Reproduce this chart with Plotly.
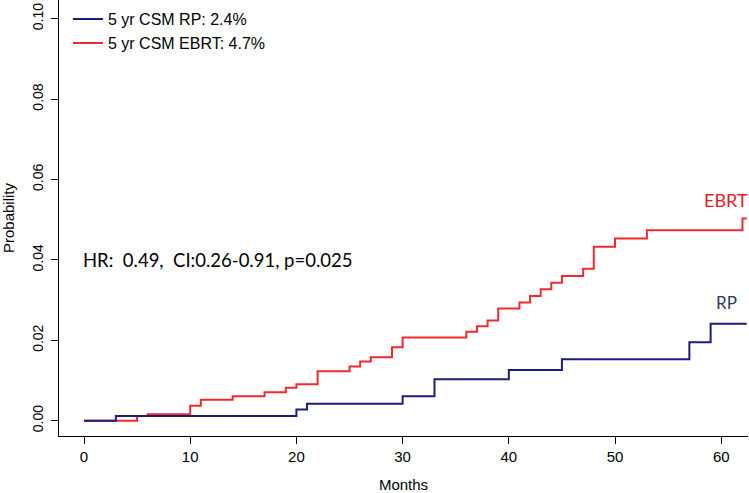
import plotly.graph_objects as go

# Data
rp_months = [0, 3, 20, 21, 30, 33, 40, 45, 57, 59, 62.4]
rp_prob = [0, 0.0012, 0.0028, 0.0042, 0.0061, 0.0103, 0.0126, 0.0153, 0.0195, 0.0241, 0.0241]

ebrt_months = [0, 5, 6, 10, 11, 14, 17, 19, 20, 22, 25, 26, 27, 29, 30, 36, 37, 38, 39,
               41, 42, 43, 44, 45, 47, 48, 50, 53, 62, 62.4]
ebrt_prob = [0, 0.0012, 0.0016, 0.0037, 0.0052, 0.0061, 0.0071, 0.0082, 0.0091, 0.0123,
             0.0135, 0.0147, 0.0158, 0.0183, 0.0207, 0.0221, 0.0235, 0.0249, 0.0279,
             0.0294, 0.0310, 0.0327, 0.0343, 0.0360, 0.0378, 0.0433, 0.0453, 0.0474,
             0.0503, 0.0503]

x_ticks = [0, 10, 20, 30, 40, 50, 60]
y_ticks = [0.00, 0.02, 0.04, 0.06, 0.08, 0.10]
y_tick_text = ["0.00", "0.02", "0.04", "0.06", "0.08", "0.10"]

rp_name = "5 yr CSM RP: 2.4%"
ebrt_name = "5 yr CSM EBRT: 4.7%"
hr_text = "HR:  0.49,  CI:0.26-0.91, p=0.025"

BLUE = "#1C1C7C"
RED = "#EE2A2E"

fig = go.Figure()
fig.add_trace(go.Scatter(x=ebrt_months, y=ebrt_prob, mode="lines", name=ebrt_name,
                         line=dict(color=RED, width=2, shape="hv"), legendrank=2))
fig.add_trace(go.Scatter(x=rp_months, y=rp_prob, mode="lines", name=rp_name,
                         line=dict(color=BLUE, width=2, shape="hv"), legendrank=1))

base = "Liberation Sans, Arial, sans-serif"
xfont = dict(family=base, size=15, color="black")
yfont = dict(family=base, size=14, color="black")

fig.update_layout(
    width=749, height=493,
    margin=dict(l=59, r=1, t=0, b=57),
    plot_bgcolor="white", paper_bgcolor="white",
    font=xfont,
    showlegend=True,
    legend=dict(x=0.013, y=0.995, xanchor="left", yanchor="top",
                bgcolor="rgba(0,0,0,0)", font=dict(family=base, size=16, color="black"),
                tracegroupgap=0, itemwidth=30),
    xaxis=dict(range=[-2.354, 62.52], tickvals=x_ticks, ticks="outside", ticklen=7,
               tickcolor="black", showline=True, linecolor="black", linewidth=1,
               showgrid=False, zeroline=False, tickfont=xfont, automargin=False,
               title=dict(text="Months", font=xfont, standoff=16)),
    yaxis=dict(range=[-0.0038, 0.10465], tickvals=y_ticks, ticktext=y_tick_text,
               ticks="outside", ticklen=7, tickangle=-90, ticklabelstandoff=2,
               tickcolor="black", showline=True, linecolor="black", linewidth=1,
               showgrid=False, zeroline=False, tickfont=yfont, automargin=False,
               title=dict(text="Probability", font=xfont, standoff=12)),
    annotations=[
        dict(x=-0.3, y=0.040, xref="x", yref="y", text=hr_text, showarrow=False,
             xanchor="left", yanchor="middle",
             font=dict(family="Lato, Open Sans, sans-serif", size=18.5, color="black")),
        dict(x=60.45, y=0.0550, xref="x", yref="y", text="EBRT", showarrow=False,
             xanchor="center", yanchor="middle",
             font=dict(family="Lato, Open Sans, sans-serif", size=18, color="#E01E25")),
        dict(x=60.5, y=0.0294, xref="x", yref="y", text="RP", showarrow=False,
             xanchor="center", yanchor="middle",
             font=dict(family="Lato, Open Sans, sans-serif", size=17, color="#2B3A5C")),
    ],
)

fig.write_html("out.html", config={"displayModeBar": False},
               post_script="document.body.style.margin='0';")
